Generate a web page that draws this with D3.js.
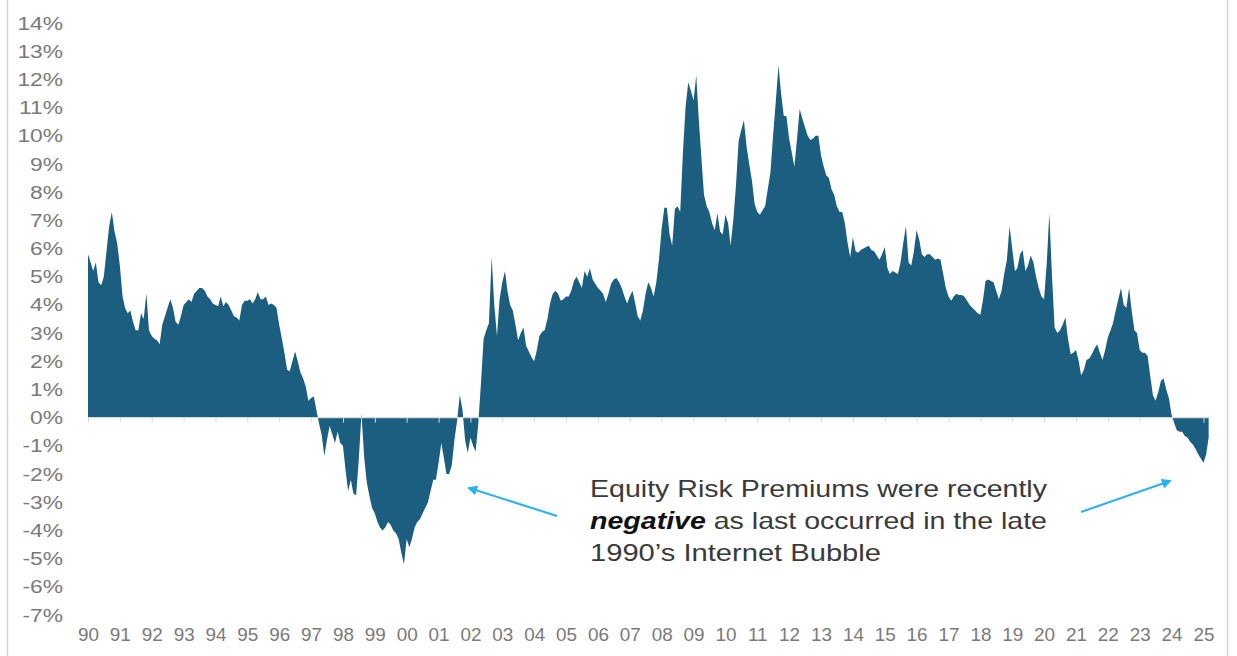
<!DOCTYPE html>
<html>
<head>
<meta charset="utf-8">
<script src="https://cdn.jsdelivr.net/npm/d3@7"></script>
<style>
  body { margin: 0; background: #fff; }
  svg { display: block; }
  text { font-family: "Liberation Sans", Arial, sans-serif; }
</style>
</head>
<body>
<svg id="chart" width="1237" height="656"></svg>
<script>
// monthly equity risk premium (%), Jan of first year onward
const erp1990s = [
  5.8, 5.5, 5.2, 5.5, 4.8, 4.7, 5.0, 5.9, 6.8, 7.3, 6.6, 6.2,
  5.4, 4.3, 3.9, 3.7, 3.8, 3.4, 3.1, 3.1, 3.7, 3.5, 4.4, 3.1,
  2.9, 2.8, 2.75, 2.6, 3.3, 3.6, 3.9, 4.2, 3.9, 3.4, 3.3, 3.6,
  4.0, 4.1, 4.2, 4.1, 4.4, 4.5, 4.6, 4.6, 4.5, 4.3, 4.2, 4.05,
  4.0, 3.95, 4.3, 3.95, 4.1, 4.0, 3.8, 3.6, 3.55, 3.45, 4.0, 4.15,
  4.15, 4.2, 4.05, 4.2, 4.45, 4.2, 4.2, 4.3, 4.0, 4.05, 4.0, 3.9,
  3.3, 2.8, 2.3, 1.7, 1.65, 2.0, 2.35, 2.0, 1.6, 1.4, 1.1, 0.6,
  0.7, 0.75, 0.3, -0.2, -0.6, -1.35, -0.8, -0.3, -0.6, -0.9, -0.5, -0.9,
  -1.0, -1.9, -2.6, -2.2, -2.7, -2.75, -1.5, 0.15, -1.4, -2.3, -2.8, -3.2,
  -3.4, -3.7, -3.9, -4.0, -3.9, -3.7, -3.8, -4.0, -4.1, -4.3, -4.8, -5.2
];
const erp2000s = [
  -4.3, -4.6, -4.3, -3.9, -3.7, -3.6, -3.4, -3.2, -3.0, -2.6, -2.2, -2.2,
  -1.6, -0.9, -1.4, -2.0, -2.0, -1.7, -0.8, -0.1, 0.8, 0.3, -0.8, -1.25,
  -0.7, -1.0, -1.2, -0.2, 1.2, 2.8, 3.1, 3.35, 5.7, 4.0, 2.9, 4.2,
  4.8, 5.2, 4.5, 4.0, 3.8, 3.3, 2.75, 3.0, 3.2, 2.55, 2.35, 2.15,
  2.0, 2.4, 2.9, 3.05, 3.1, 3.5, 4.05, 4.4, 4.5, 4.4, 4.15, 4.2,
  4.3, 4.3, 4.5, 4.85, 5.0, 4.8, 4.6, 5.2, 5.0, 5.3, 4.9, 4.75,
  4.6, 4.5, 4.4, 4.1, 4.4, 4.75, 4.9, 4.95, 4.8, 4.6, 4.3, 4.05,
  4.3, 4.5, 4.1, 3.6, 3.45, 3.8, 4.4, 4.8, 4.6, 4.3, 4.8, 5.6,
  6.7, 7.45, 7.45, 6.5, 6.1, 7.4, 7.5, 7.3, 9.4, 11.0, 11.9, 11.6,
  11.25, 12.15, 10.6, 9.2, 7.9, 7.5, 7.3, 6.9, 6.65, 7.25, 6.6, 6.5
];
const erp2010s = [
  7.2, 6.9, 6.1, 7.0, 8.2, 9.8, 10.2, 10.55, 9.6, 9.0, 8.4, 7.6,
  7.3, 7.2, 7.35, 7.5, 8.1, 8.7, 10.0, 11.2, 12.5, 11.5, 10.7, 10.7,
  9.9, 9.4, 8.9, 9.9, 10.95, 10.6, 10.3, 10.0, 9.85, 9.9, 10.0, 10.0,
  9.3, 8.9, 8.6, 8.5, 8.1, 7.9, 7.5, 7.3, 7.3, 6.9, 6.2, 5.7,
  6.4, 5.9, 5.85, 5.95, 6.0, 6.05, 6.1, 5.95, 5.9, 5.75, 5.6, 5.8,
  6.05, 5.3, 5.1, 5.2, 5.15, 5.1, 5.5, 6.2, 6.8, 5.5, 5.4, 5.9,
  6.65, 6.3, 5.8, 5.7, 5.8, 5.8, 5.7, 5.6, 5.65, 5.6, 5.1, 4.6,
  4.3, 4.15, 4.3, 4.4, 4.35, 4.35, 4.3, 4.15, 4.0, 3.9, 3.8, 3.7,
  3.65, 4.2, 4.85, 4.9, 4.85, 4.8, 4.5, 4.2, 4.5, 5.1, 5.6, 6.8,
  6.0, 5.2, 5.3, 5.8, 5.95, 5.2, 5.4, 5.75, 5.5, 5.0, 4.6, 4.3
];
const erp2020s = [
  4.2, 5.5, 7.25, 5.0, 3.2, 3.0, 3.1, 3.3, 3.55, 2.8, 2.25, 2.3,
  2.4, 2.0, 1.5, 1.7, 2.05, 2.1, 2.25, 2.45, 2.6, 2.3, 2.05, 2.4,
  2.85, 3.1, 3.35, 3.8, 4.2, 4.6, 4.0, 3.9, 4.6, 3.8, 3.1, 3.0,
  2.4, 2.3, 2.3, 2.2, 1.5, 0.8, 0.6, 0.9, 1.3, 1.4, 1.0, 0.7,
  0.1, -0.2, -0.45, -0.5, -0.5, -0.65, -0.7, -0.85, -0.95, -1.1, -1.3, -1.45,
  -1.6, -1.3, -0.7
];
const yearLabels = ["90","91","92","93","94","95","96","97","98","99","00","01","02",
  "03","04","05","06","07","08","09","10","11","12","13","14","15","16","17","18",
  "19","20","21","22","23","24","25"];
const yTicks = [-7, -6, -5, -4, -3, -2, -1, 0, 1, 2, 3, 4, 5, 6, 7, 8, 9, 10, 11, 12, 13, 14];

const series = [].concat(erp1990s, erp2000s, erp2010s, erp2020s)
  .map((v, i) => ({ date: new Date(1990, i, 1), value: v }));
const yearStarts = yearLabels.map((s, i) => new Date(1990 + i, 0, 1));

const svg = d3.select("#chart");

var x = d3.scaleTime()
  .domain([new Date(1990, 0, 1), new Date(2025, 0, 1)])
  .range([88, 1203.5]);
var y = d3.scaleLinear().domain([-7, 14]).range([615, 23]);

// frame edges
svg.append("line").attr("x1", 7.5).attr("x2", 7.5).attr("y1", 0).attr("y2", 656)
  .attr("stroke", "#d4d4d4").attr("stroke-width", 1.5);
svg.append("line").attr("x1", 1227.5).attr("x2", 1227.5).attr("y1", 0).attr("y2", 656)
  .attr("stroke", "#d4d4d4").attr("stroke-width", 1.5);

var area = d3.area()
  .x((d) => x(d.date))
  .y0(y(0))
  .y1((d) => y(d.value));

svg.append("path")
  .datum(series)
  .attr("d", area)
  .attr("fill", "#1b5e80");

// zero line with year ticks
var zeroAxis = svg.append("g")
  .attr("transform", "translate(0," + y(0) + ")")
  .call(d3.axisBottom(x).tickValues(yearStarts).tickSize(5).tickFormat(""));
zeroAxis.select(".domain").remove();
zeroAxis.selectAll(".tick line").attr("stroke", "#d9d9d9");
svg.append("line")
  .attr("x1", x(series[0].date)).attr("x2", x(series[series.length - 1].date))
  .attr("y1", y(0)).attr("y2", y(0))
  .attr("stroke", "#d9d9d9").attr("stroke-width", 1.2);

// year labels along the bottom
var xLab = svg.append("g")
  .attr("transform", "translate(0,628)")
  .call(d3.axisBottom(x).tickValues(yearStarts).tickSize(0).tickPadding(0)
    .tickFormat((d, i) => yearLabels[i]));
xLab.select(".domain").remove();
xLab.selectAll("text")
  .attr("fill", "#7a7a7a")
  .attr("transform", "scale(1.05,1)")
  .style("font-size", "18px")
  .style("font-family", "'Liberation Sans', Arial, sans-serif");

var yAx = svg.append("g")
  .attr("transform", "translate(63,0)")
  .call(d3.axisLeft(y).tickValues(yTicks).tickSize(0).tickPadding(0)
    .tickFormat((d) => d + "%"));
yAx.select(".domain").remove();
yAx.selectAll("text")
  .attr("fill", "#7a7a7a")
  .attr("transform", "scale(1.2,1)")
  .style("font-size", "19px")
  .style("font-family", "'Liberation Sans', Arial, sans-serif");

// annotation
var note = svg.append("g").attr("fill", "#3a3a3a").style("font-size", "24px");
note.append("text").attr("x", 590).attr("y", 497)
  .attr("textLength", 457).attr("lengthAdjust", "spacingAndGlyphs")
  .text("Equity Risk Premiums were recently");
var l2 = note.append("text").attr("x", 590).attr("y", 529)
  .attr("textLength", 457).attr("lengthAdjust", "spacingAndGlyphs");
l2.append("tspan").attr("font-weight", "bold").attr("font-style", "italic")
  .attr("fill", "#111").text("negative");
l2.append("tspan").text(" as last occurred in the late");
note.append("text").attr("x", 590).attr("y", 561)
  .attr("textLength", 291).attr("lengthAdjust", "spacingAndGlyphs")
  .text("1990\u2019s Internet Bubble");

// arrows
svg.append("defs").append("marker")
  .attr("id", "head")
  .attr("viewBox", "0 0 10 10")
  .attr("refX", 8).attr("refY", 5)
  .attr("markerWidth", 5).attr("markerHeight", 5)
  .attr("orient", "auto")
  .append("path").attr("d", "M0,0 L10,5 L0,10 z").attr("fill", "#29b0ee");

svg.append("line")
  .attr("x1", 557).attr("y1", 516).attr("x2", 469).attr("y2", 488)
  .attr("stroke", "#29b0ee").attr("stroke-width", 2)
  .attr("marker-end", "url(#head)");
svg.append("line")
  .attr("x1", 1081).attr("y1", 512).attr("x2", 1170).attr("y2", 481)
  .attr("stroke", "#29b0ee").attr("stroke-width", 2)
  .attr("marker-end", "url(#head)");
</script>
</body>
</html>
